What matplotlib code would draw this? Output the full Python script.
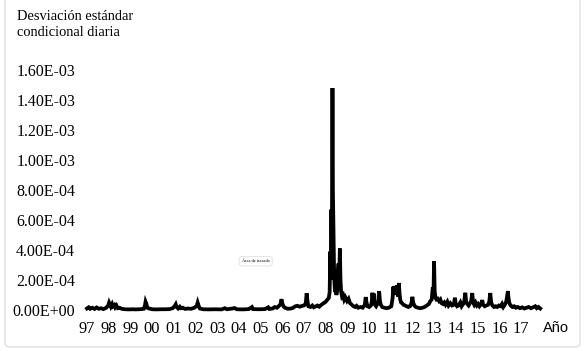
import matplotlib
matplotlib.use("Agg")
import matplotlib.pyplot as plt
from matplotlib.patches import FancyBboxPatch
from matplotlib.ticker import FuncFormatter

# daily conditional std dev (units of 1E-4), t in fractional years
t = [1997.50, 1997.58, 1997.65, 1997.75, 1997.85, 1997.95, 1998.05, 1998.15, 1998.25, 1998.38,
     1998.48, 1998.52, 1998.56, 1998.60, 1998.66, 1998.70, 1998.76, 1998.80, 1998.86, 1998.92,
     1999.00, 1999.10, 1999.25, 1999.45, 1999.60, 1999.75, 1999.90, 2000.02, 2000.12,
     2000.17, 2000.20, 2000.24, 2000.28, 2000.36, 2000.50, 2000.70, 2000.90, 2001.10, 2001.30,
     2001.45, 2001.55, 2001.59, 2001.63, 2001.70, 2001.78, 2001.84, 2001.92, 2002.02, 2002.15,
     2002.30, 2002.45, 2002.56, 2002.60, 2002.64, 2002.70, 2002.85, 2003.10, 2003.40, 2003.70,
     2003.85, 2003.95, 2004.20, 2004.30, 2004.40, 2004.70, 2004.95, 2005.10, 2005.15, 2005.40,
     2005.70, 2005.85, 2005.90, 2006.05, 2006.15, 2006.25, 2006.35, 2006.42, 2006.46, 2006.50,
     2006.55, 2006.62, 2006.75, 2006.90, 2007.00, 2007.10, 2007.20, 2007.30, 2007.40, 2007.50,
     2007.58, 2007.62, 2007.66, 2007.70, 2007.80, 2007.88, 2007.95, 2008.05, 2008.12, 2008.20,
     2008.30, 2008.40, 2008.50, 2008.58, 2008.64, 2008.68, 2008.71, 2008.73, 2008.76, 2008.78,
     2008.81, 2008.83, 2008.86, 2008.88, 2008.90, 2008.93, 2008.96, 2008.99, 2009.03, 2009.06,
     2009.09, 2009.11, 2009.15, 2009.18, 2009.21, 2009.25, 2009.30, 2009.35, 2009.40, 2009.48,
     2009.55, 2009.62, 2009.70, 2009.78, 2009.85, 2009.92, 2010.00, 2010.10, 2010.20, 2010.30,
     2010.34, 2010.38, 2010.42, 2010.50, 2010.58, 2010.62, 2010.65, 2010.68, 2010.71, 2010.74,
     2010.82, 2010.88, 2010.92, 2010.96, 2011.00, 2011.04, 2011.10, 2011.20, 2011.30, 2011.40,
     2011.52, 2011.58, 2011.61, 2011.64, 2011.67, 2011.70, 2011.73, 2011.76, 2011.80, 2011.83,
     2011.87, 2011.90, 2011.93, 2011.97, 2012.02, 2012.08, 2012.15, 2012.22, 2012.30, 2012.38,
     2012.45, 2012.49, 2012.53, 2012.58, 2012.65, 2012.75, 2012.85, 2012.95, 2013.05, 2013.15,
     2013.25, 2013.32, 2013.38, 2013.43, 2013.46, 2013.49, 2013.52, 2013.56, 2013.60, 2013.66,
     2013.72, 2013.78, 2013.84, 2013.90, 2013.96, 2014.02, 2014.10, 2014.16, 2014.24, 2014.32,
     2014.40, 2014.45, 2014.49, 2014.55, 2014.62, 2014.70, 2014.76, 2014.83, 2014.88, 2014.93,
     2014.97, 2015.02, 2015.08, 2015.14, 2015.20, 2015.25, 2015.29, 2015.34, 2015.40, 2015.46,
     2015.52, 2015.58, 2015.66, 2015.71, 2015.75, 2015.82, 2015.90, 2015.98, 2016.03, 2016.08,
     2016.12, 2016.18, 2016.25, 2016.33, 2016.40, 2016.48, 2016.56, 2016.62, 2016.68, 2016.75,
     2016.82, 2016.86, 2016.89, 2016.92, 2016.96, 2017.02, 2017.10, 2017.18, 2017.26, 2017.35,
     2017.45, 2017.55, 2017.65, 2017.75, 2017.85, 2017.95, 2018.05, 2018.15, 2018.22, 2018.30,
     2018.38]
sd = [0.10, 0.18, 0.08, 0.15, 0.07, 0.17, 0.08, 0.12, 0.06, 0.14,
      0.30, 0.49, 0.35, 0.22, 0.40, 0.25, 0.33, 0.18, 0.30, 0.12,
      0.15, 0.08, 0.05, 0.04, 0.05, 0.04, 0.05, 0.06, 0.08,
      0.30, 0.55, 0.40, 0.15, 0.10, 0.05, 0.04, 0.05, 0.05, 0.06,
      0.12, 0.28, 0.38, 0.20, 0.10, 0.22, 0.12, 0.15, 0.07, 0.10,
      0.08, 0.15, 0.28, 0.49, 0.30, 0.10, 0.05, 0.04, 0.05, 0.04,
      0.12, 0.05, 0.10, 0.13, 0.05, 0.04, 0.06, 0.20, 0.06, 0.05,
      0.06, 0.18, 0.07, 0.10, 0.20, 0.15, 0.28, 0.40, 0.72, 0.45,
      0.25, 0.15, 0.08, 0.10, 0.15, 0.25, 0.28, 0.22, 0.27, 0.30,
      0.45, 1.12, 0.60, 0.25, 0.20, 0.30, 0.18, 0.25, 0.30, 0.22,
      0.35, 0.45, 0.55, 0.70, 0.80, 1.20, 3.90, 2.00, 6.70, 4.00,
      14.80, 8.00, 5.00, 3.00, 1.80, 1.20, 1.50, 1.00, 1.30, 2.50,
      3.10, 1.50, 4.10, 2.00, 1.20, 0.90, 1.00, 0.70, 0.85, 0.60,
      0.75, 0.45, 0.35, 0.25, 0.20, 0.28, 0.15, 0.20, 0.15, 0.35,
      0.86, 0.50, 0.25, 0.20, 0.30, 0.55, 1.15, 0.60, 1.10, 0.40,
      0.25, 0.40, 0.65, 1.26, 0.55, 0.35, 0.20, 0.15, 0.12, 0.15,
      0.25, 0.80, 1.55, 1.20, 1.60, 1.00, 1.55, 1.20, 1.65, 0.90,
      1.80, 1.10, 0.70, 0.50, 0.45, 0.35, 0.30, 0.25, 0.20, 0.25,
      0.45, 0.88, 0.50, 0.30, 0.20, 0.15, 0.12, 0.15, 0.20, 0.30,
      0.40, 0.60, 0.70, 1.50, 0.90, 3.25, 1.20, 0.80, 0.70, 0.75,
      0.60, 0.70, 0.45, 0.40, 0.50, 0.35, 0.55, 0.30, 0.45, 0.30,
      0.35, 0.82, 0.40, 0.25, 0.30, 0.50, 0.25, 0.40, 0.60, 1.15,
      0.50, 0.40, 0.30, 0.45, 0.60, 1.13, 0.50, 0.35, 0.50, 0.30,
      0.40, 0.25, 0.40, 0.66, 0.35, 0.25, 0.30, 0.35, 0.55, 1.13,
      0.50, 0.30, 0.20, 0.25, 0.20, 0.30, 0.25, 0.40, 0.20, 0.35,
      0.60, 1.00, 1.26, 0.80, 0.45, 0.30, 0.20, 0.25, 0.15, 0.20,
      0.12, 0.18, 0.10, 0.15, 0.20, 0.12, 0.18, 0.25, 0.12, 0.20,
      0.10]
years = list(range(1997, 2018))
year_labels = ["%02d" % (y % 100) for y in years]
y_ticks = [0, 2e-4, 4e-4, 6e-4, 8e-4, 1e-3, 1.2e-3, 1.4e-3, 1.6e-3]

serif = "Liberation Serif"

fig = plt.figure(figsize=(5.86, 3.51), dpi=100)
ax = fig.add_axes([80 / 586, 36 / 351, 465 / 586, 250 / 351])

ax.plot(t, [v * 1e-4 for v in sd], color="black", lw=2.7, solid_joinstyle="miter")

ax.set_xlim(1997.18, 2018.6)
ax.set_ylim(-3.33e-5, 1.6333e-3)
ax.set_xticks([y + 0.5 for y in years])
ax.set_xticklabels(year_labels)
ax.set_yticks(y_ticks)
ax.yaxis.set_major_formatter(FuncFormatter(lambda v, p: "%.2E" % v))
ax.tick_params(axis="y", length=0, labelsize=11.5, pad=3.5)
ax.tick_params(axis="x", length=0, labelsize=11.8, pad=4)
for lab in ax.get_xticklabels() + ax.get_yticklabels():
    lab.set_fontfamily(serif)
for s in ax.spines.values():
    s.set_visible(False)

fig.text(17 / 586, 1 - 24 / 351, "Desviación estándar\ncondicional diaria",
         fontfamily=serif, fontsize=10.4, va="center", ha="left", linespacing=1.3)
fig.text(543 / 586, 1 - 328 / 351, "Año", fontfamily="Liberation Sans",
         fontsize=10.5, va="center", ha="left")

# leftover "plot area" tooltip from the spreadsheet
ax.text(0.378, 0.215, "Área de trazado", transform=ax.transAxes, fontsize=3.2,
        fontfamily=serif, ha="center", va="center",
        bbox=dict(boxstyle="round,pad=0.6", fc="white", ec="#e6e6e6", lw=0.8))

# chart border
fig.patches.append(FancyBboxPatch((5 / 586, 4 / 351), 575 / 586, 360 / 351,
                                  boxstyle="round,pad=0,rounding_size=0.01",
                                  transform=fig.transFigure, fc="none",
                                  ec="#dedede", lw=1.0))

fig.savefig("out.png", dpi=100)
